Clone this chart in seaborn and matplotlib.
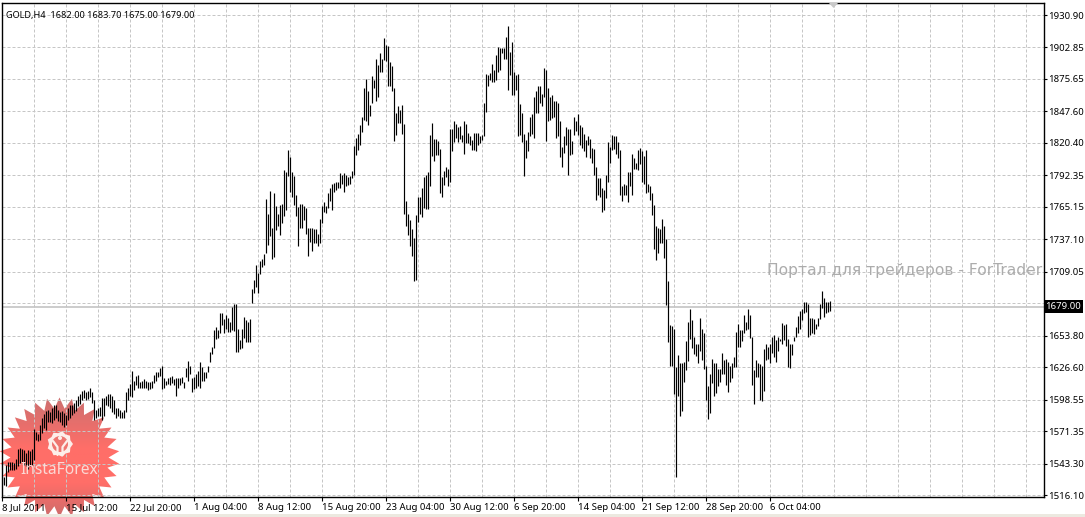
import numpy as np
import pandas as pd
import matplotlib
matplotlib.use("Agg")
import matplotlib.pyplot as plt
from matplotlib.patches import Polygon, Circle, Rectangle
from matplotlib.transforms import ScaledTranslation
import seaborn as sns

# H4 bars
highs = [
    1532, 1532, 1542, 1545, 1545, 1545, 1544, 1547, 1556, 1557, 1556, 1555, 1552, 1555, 1554, 1556,
    1573, 1571, 1569, 1577, 1583, 1586, 1589, 1590, 1588, 1591, 1594, 1594, 1590, 1588, 1589, 1587,
    1585, 1591, 1594, 1594, 1596, 1598, 1602, 1603, 1606, 1607, 1605, 1606, 1609, 1605, 1598, 1590,
    1591, 1592, 1600, 1600, 1602, 1603, 1603, 1602, 1598, 1591, 1591, 1590, 1588, 1590, 1605, 1609, 1612,
    1623, 1615, 1619, 1620, 1614, 1615, 1616, 1615, 1614, 1614, 1615, 1620, 1622, 1622, 1626, 1628,
    1617, 1615, 1617, 1618, 1619, 1616, 1617, 1617, 1617, 1618, 1614, 1626, 1632, 1628, 1617, 1618,
    1621, 1623, 1631, 1627, 1622, 1622, 1628, 1640, 1644, 1659, 1661, 1659, 1673, 1673, 1668, 1672,
    1669, 1666, 1679, 1681, 1681, 1660, 1650, 1660, 1670, 1667, 1666, 1668,
    1694, 1702, 1715, 1708, 1718, 1720, 1724, 1772, 1759, 1779, 1747, 1777, 1766, 1759, 1767, 1768,
    1797, 1795, 1814, 1808, 1795, 1792, 1775, 1765, 1768, 1768, 1766, 1764, 1747, 1747, 1747, 1746,
    1746, 1742, 1755, 1766, 1769, 1766, 1777, 1781, 1785, 1786, 1787, 1787, 1794, 1793, 1794, 1793,
    1791, 1792, 1796, 1818, 1825, 1828, 1836, 1843, 1868, 1876, 1865, 1853, 1878, 1875, 1893, 1888,
    1898, 1893, 1911, 1905, 1904, 1890, 1887, 1868, 1846, 1852, 1849, 1853, 1837, 1770, 1759, 1754,
    1746, 1738, 1758, 1774, 1774, 1781, 1791, 1793, 1795, 1827, 1838, 1824, 1824, 1822, 1815, 1791,
    1796, 1800, 1798, 1832, 1832, 1839, 1837, 1834, 1835, 1827, 1839, 1837, 1829, 1826, 1823, 1829,
    1829, 1829, 1826, 1827, 1855, 1880, 1879, 1881, 1889, 1883, 1896, 1903,
    1902, 1902, 1902, 1912, 1921, 1899, 1908, 1882, 1879, 1880, 1854, 1846, 1828, 1823, 1830, 1843,
    1845, 1860, 1865, 1870, 1870, 1863, 1885, 1883, 1868, 1860, 1862, 1857, 1857, 1855, 1839, 1817,
    1826, 1834, 1832, 1832, 1822, 1843, 1839, 1845, 1836, 1834, 1828, 1823, 1826, 1824, 1816, 1815,
    1800, 1790, 1790, 1781, 1780, 1793, 1821, 1817, 1827, 1826, 1826, 1821, 1814, 1783, 1785, 1784,
    1795, 1795, 1811, 1807, 1803, 1814, 1816, 1813, 1809, 1814, 1785, 1783, 1777, 1767, 1749, 1747,
    1746, 1755, 1749, 1737,
    1701, 1663, 1662, 1660, 1627, 1637, 1630, 1630, 1631, 1649, 1666, 1677, 1667, 1653, 1647, 1647,
    1669, 1660, 1656, 1628, 1610, 1621, 1634, 1630, 1630, 1625, 1625, 1639, 1633, 1634, 1631, 1628,
    1630, 1635, 1657, 1664, 1659, 1659, 1672, 1666, 1677, 1672, 1653, 1624, 1633, 1630, 1629, 1628,
    1642, 1647, 1644, 1647, 1653, 1654, 1650, 1653, 1651, 1665, 1663, 1664, 1651, 1647, 1647, 1653,
    1661, 1671, 1675, 1677, 1683, 1683, 1681, 1669, 1669, 1668, 1664, 1669, 1681, 1692, 1686, 1683, 1683, 1683.7,
]
lows = [
    1526, 1525, 1524, 1536, 1538, 1538, 1538, 1539, 1541, 1544, 1545, 1542, 1541, 1539, 1541, 1542,
    1546, 1564, 1563, 1564, 1570, 1574, 1572, 1579, 1579, 1578, 1581, 1583, 1580, 1579, 1577, 1575,
    1577, 1581, 1583, 1585, 1587, 1589, 1593, 1595, 1598, 1600, 1598, 1599, 1601, 1596, 1581, 1583,
    1584, 1584, 1581, 1584, 1594, 1593, 1591, 1588, 1586, 1583, 1584, 1583, 1583, 1583, 1588, 1598, 1602,
    1601, 1607, 1611, 1609, 1609, 1609, 1609, 1609, 1607, 1608, 1609, 1613, 1615, 1618, 1619, 1608,
    1609, 1611, 1612, 1611, 1613, 1611, 1602, 1609, 1611, 1613, 1609, 1618, 1615, 1621, 1605, 1608,
    1609, 1610, 1609, 1615, 1615, 1617, 1622, 1631, 1638, 1643, 1651, 1652, 1656, 1663, 1656, 1660,
    1657, 1657, 1659, 1658, 1640, 1640, 1642, 1643, 1652, 1648, 1648, 1648,
    1682, 1691, 1696, 1691, 1707, 1713, 1715, 1725, 1732, 1740, 1720, 1722, 1745, 1749, 1741, 1751,
    1757, 1762, 1792, 1778, 1774, 1767, 1757, 1731, 1747, 1747, 1754, 1742, 1723, 1735, 1727, 1734,
    1734, 1731, 1734, 1751, 1761, 1760, 1764, 1770, 1762, 1778, 1780, 1781, 1781, 1785, 1778, 1783,
    1784, 1785, 1790, 1793, 1810, 1814, 1819, 1830, 1840, 1839, 1836, 1844, 1855, 1868, 1857, 1860,
    1882, 1882, 1892, 1891, 1870, 1870, 1865, 1822, 1827, 1838, 1838, 1828, 1759, 1749, 1741, 1731,
    1723, 1701, 1702, 1752, 1759, 1756, 1764, 1763, 1763, 1783, 1809, 1805, 1810, 1810, 1777, 1774,
    1784, 1791, 1783, 1787, 1813, 1821, 1825, 1821, 1824, 1821, 1811, 1820, 1820, 1819, 1814, 1814,
    1813, 1819, 1820, 1823, 1826, 1847, 1870, 1875, 1873, 1873, 1875, 1882,
    1883, 1898, 1893, 1893, 1866, 1879, 1862, 1862, 1866, 1826, 1827, 1821, 1792, 1807, 1813, 1826,
    1828, 1825, 1846, 1846, 1855, 1852, 1860, 1822, 1839, 1840, 1842, 1843, 1825, 1826, 1808, 1800,
    1812, 1819, 1793, 1810, 1811, 1827, 1831, 1827, 1819, 1816, 1813, 1808, 1819, 1807, 1803, 1793,
    1771, 1775, 1774, 1761, 1762, 1773, 1787, 1803, 1814, 1815, 1811, 1807, 1775, 1770, 1775, 1775,
    1769, 1783, 1775, 1798, 1798, 1797, 1802, 1787, 1785, 1777, 1778, 1771, 1758, 1729, 1719, 1725,
    1734, 1734, 1721, 1680,
    1648, 1628, 1628, 1603, 1532, 1602, 1584, 1589, 1614, 1624, 1632, 1651, 1643, 1638, 1636, 1630,
    1641, 1633, 1625, 1598, 1582, 1587, 1613, 1602, 1604, 1610, 1614, 1621, 1621, 1611, 1605, 1614,
    1617, 1627, 1627, 1644, 1644, 1649, 1656, 1659, 1660, 1652, 1611, 1595, 1618, 1618, 1598, 1597,
    1606, 1633, 1634, 1630, 1639, 1635, 1631, 1641, 1649, 1647, 1650, 1645, 1627, 1626, 1637, 1649,
    1653, 1656, 1660, 1667, 1673, 1674, 1653, 1654, 1656, 1655, 1660, 1662, 1668, 1678, 1670, 1673, 1674, 1675,
]
assert len(highs) == len(lows), (len(highs), len(lows))

price_levels = [1930.90, 1902.85, 1875.65, 1847.60, 1820.40, 1792.35, 1765.15, 1737.10,
                1709.05, 1681.85, 1653.80, 1626.60, 1598.55, 1571.35, 1543.30, 1516.10]
price_labels = ['1930.90', '1902.85', '1875.65', '1847.60', '1820.40', '1792.35', '1765.15', '1737.10',
                '1709.05', '', '1653.80', '1626.60', '1598.55', '1571.35', '1543.30', '1516.10']
date_labels = ['8 Jul 2011', '15 Jul 12:00', '22 Jul 20:00', '1 Aug 04:00', '8 Aug 12:00',
               '15 Aug 20:00', '23 Aug 04:00', '30 Aug 12:00', '6 Sep 20:00', '14 Sep 04:00',
               '21 Sep 12:00', '28 Sep 20:00', '6 Oct 04:00']
last_price = 1679.00
header = 'GOLD,H4  1682.00 1683.70 1675.00 1679.00'
watermark = 'Портал для трейдеров - ForTrader'

W, H = 1085, 517

sns.set_theme(style='white')
plt.rcParams['font.family'] = ['Noto Sans', 'DejaVu Sans']

fig = plt.figure(figsize=(W / 100, H / 100), dpi=100, facecolor='white')

# logo star goes behind the chart, the chart has no background of its own
back = fig.add_axes([0, 0, 1, 1], facecolor='none', zorder=0)
ax = fig.add_axes([2 / W, 1 - 497 / H, (1043.5 - 2) / W, (497 - 3) / H], facecolor='none', zorder=1)
over = fig.add_axes([0, 0, 1, 1], facecolor='none', zorder=10)

# long table: every bar is one unit with its low and high
n = len(highs)
bars = pd.DataFrame({
    'bar': np.repeat(np.arange(n), 2),
    'price': np.column_stack([lows, highs]).ravel(),
})
sns.lineplot(data=bars, x='bar', y='price', units='bar', estimator=None, sort=False,
             color='black', lw=0.85, solid_capstyle='butt', legend=False, ax=ax, zorder=3)

ax.set_xlim(0, 520.75)
ax.set_ylim(1514.4, 1941.3)

# grid every 16 bars, date label every 32
major = np.arange(len(date_labels)) * 32
minor = [k for k in range(0, 513, 16) if k not in major]
ax.set_xticks(major)
ax.set_xticklabels(date_labels, ha='left', fontsize=6.9, color='black')
shift = ScaledTranslation(-1.5 / 100, 0, fig.dpi_scale_trans)
for lab in ax.get_xticklabels():
    lab.set_transform(lab.get_transform() + shift)
ax.set_xticks(minor, minor=True)
ax.set_yticks(price_levels)
ax.set_yticklabels(price_labels, fontsize=6.9, color='black')
ax.yaxis.tick_right()
ax.tick_params(axis='x', which='major', bottom=True, length=3, width=0.8, color='black', pad=1.5)
ax.tick_params(axis='x', which='minor', bottom=False)
ax.tick_params(axis='y', right=True, length=2.5, width=0.8, color='black', pad=0.5)
ax.grid(True, which='both', color='#c6c6c6', lw=0.72, ls=(0, (3, 2)), zorder=0)
ax.set_axisbelow(True)
ax.set_xlabel('')
ax.set_ylabel('')
for side in ax.spines.values():
    side.set_color('black')
    side.set_linewidth(1)

ax.axhline(last_price, color='#c4c4c4', lw=1.2, zorder=2)
ax.text(1.002, last_price, '1679.00', transform=ax.get_yaxis_transform(), va='center', ha='left',
        fontsize=6.9, color='white', clip_on=False, zorder=6,
        bbox=dict(facecolor='black', edgecolor='none', pad=1.2))
ax.text(765 / 1041.5, 0.4595, watermark, transform=ax.transAxes, fontsize=11.15, color='#acacac',
        va='center', ha='left', family=['DejaVu Sans'], clip_on=True, zorder=5)
ax.text(0.0035, 0.984, header, transform=ax.transAxes, fontsize=6.6, color='black', va='top', ha='left', zorder=5)

# picture pixel overlays for the broker logo and the chrome
for a in (back, over):
    a.set_xlim(0, W)
    a.set_ylim(H, 0)
    a.axis('off')
over.add_patch(Rectangle((0, 514), W, 3, color='#ece9e0', lw=0))
over.add_patch(Polygon([[829, 3], [838, 3], [833.5, 8]], color='#c8c8c8', lw=0))

cx, cy, r_out, r_in = 59.5, 457.5, 60, 49
spikes = 30
ang = np.linspace(-np.pi / 2, 1.5 * np.pi, spikes * 2 + 1)[:-1]
rad = np.where(np.arange(spikes * 2) % 2 == 0, r_out, r_in)
star = np.column_stack([cx + rad * np.cos(ang), cy + rad * np.sin(ang)])
star_patch = Polygon(star, closed=True, fc='none', ec='none')
back.add_patch(star_patch)

top = np.array([205, 112, 112])
mid = np.array([255, 110, 104])
bot = np.array([205, 108, 108])
t = np.linspace(0, 1, 120)[:, None]
grad = np.where(t < 0.5, top + (mid - top) * np.clip(t / 0.42, 0, 1),
                mid + (bot - mid) * np.clip((t - 0.72) / 0.28, 0, 1)) / 255
img = back.imshow(grad[:, None, :], extent=(cx - r_out, cx + r_out, cy + r_out, cy - r_out), aspect='auto', zorder=1)
img.set_clip_path(star_patch)
back.set_xlim(0, W)
back.set_ylim(H, 0)

# gear with figure inside
teeth = 9
g_ang = np.linspace(0, 2 * np.pi, teeth * 2 + 1)[:-1]
g_rad = np.where(np.arange(teeth * 2) % 2 == 0, 13, 11)
over.add_patch(Polygon(np.column_stack([60 + g_rad * np.cos(g_ang), 444 + g_rad * np.sin(g_ang)]),
                       fc='#fdeeea', ec='none', zorder=3))
over.add_patch(Circle((60, 444), 8, fc='#ee7570', ec='none', zorder=4))
over.add_patch(Circle((60, 438), 2, fc='#fdeeea', ec='none', zorder=5))
over.plot([53, 57.5, 57.5], [441, 447, 455], color='#fdeeea', lw=1.6, zorder=5)
over.plot([67, 62.5, 62.5], [441, 447, 455], color='#fdeeea', lw=1.6, zorder=5)
over.text(59.5, 469.5, 'InstaForex', fontsize=11.2, color='#fbd9d5', ha='center', va='center', zorder=5)

fig.savefig('out.png', dpi=100)
